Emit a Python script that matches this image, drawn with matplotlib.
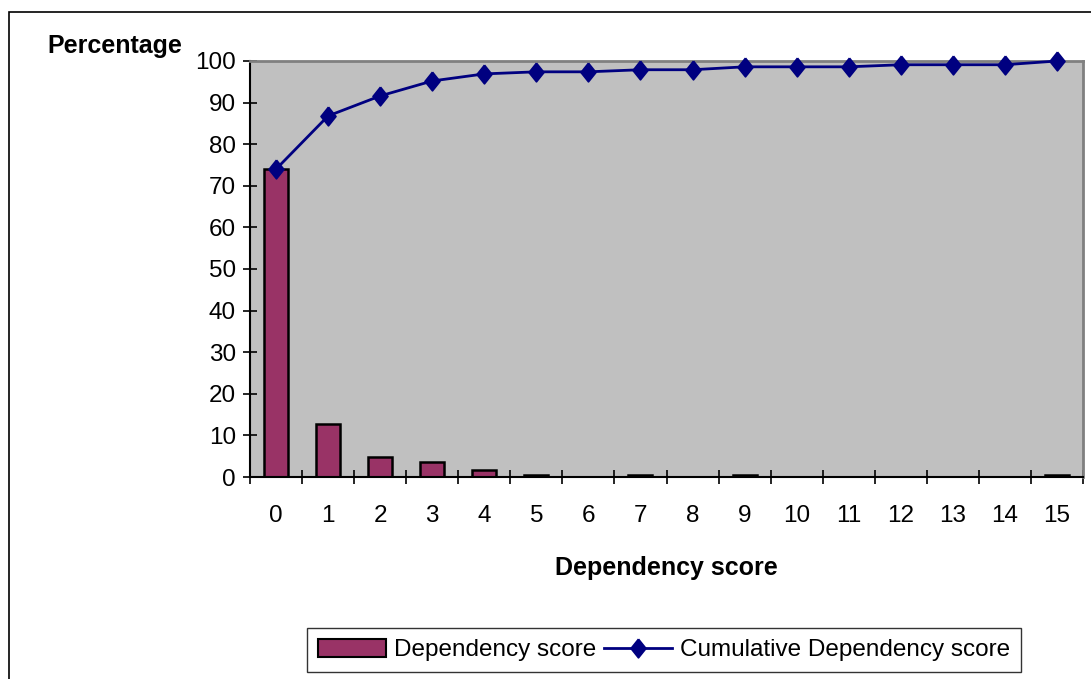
import matplotlib
matplotlib.use("Agg")
import matplotlib.pyplot as plt
from matplotlib.patches import Rectangle
from matplotlib.lines import Line2D
import numpy as np

plt.rcParams['font.family'] = ['Liberation Sans', 'DejaVu Sans']

scores = list(range(16))
dependency = [74.0, 12.8, 4.7, 3.5, 1.7, 0.5, 0.0, 0.5, 0.0, 0.6, 0.0, 0.0, 0.0, 0.0, 0.0, 0.5]
cumulative = [74.0, 86.8, 91.6, 95.2, 96.9, 97.4, 97.4, 97.9, 97.9, 98.6, 98.6, 98.6, 99.1, 99.1, 99.1, 100.0]
yticks = [0, 10, 20, 30, 40, 50, 60, 70, 80, 90, 100]

diamond = [(0, 1), (0.8, 0), (0, -1), (-0.8, 0), (0, 1)]

W, H = 1091, 679
fig = plt.figure(figsize=(W / 100, H / 100), dpi=100)
fig.patch.set_facecolor('white')

# outer chart border
fig.patches.append(Rectangle((9 / W, -0.01), 1.05, 1 - 12 / H + 0.01, transform=fig.transFigure,
                             fill=False, edgecolor='black', linewidth=1.2))

ax = fig.add_axes([250 / W, 1 - 477 / H, (1083 - 250) / W, (477 - 61) / H])
ax.set_facecolor('#C0C0C0')

ax.bar(scores, dependency, width=0.46, color='#993366', edgecolor='black', linewidth=1.8, zorder=2)
ax.plot(scores, cumulative, color='#000080', linewidth=2, marker=diamond, markersize=13.5,
        markerfacecolor='#000080', markeredgecolor='#000080', markeredgewidth=1.2,
        zorder=3, clip_on=False)

ax.set_xlim(-0.5, 15.5)
ax.set_ylim(0, 100)
ax.set_yticks(yticks)
ax.set_yticklabels([str(v) for v in yticks], fontsize=17.5)
ax.set_xticks(scores)
ax.set_xticklabels([str(s) for s in scores], fontsize=17.5)
ax.set_xticks(np.arange(-0.5, 16, 1), minor=True)
ax.tick_params(axis='x', which='major', length=0, pad=20)
ax.tick_params(axis='x', which='minor', length=10, width=1.2, direction='inout', color='black')
ax.tick_params(axis='y', which='major', length=10, width=1.2, direction='inout', pad=5)

for s in ['left', 'bottom']:
    ax.spines[s].set_color('black')
    ax.spines[s].set_linewidth(1.5)
for s in ['top', 'right']:
    ax.spines[s].set_color('#808080')
    ax.spines[s].set_linewidth(2)

fig.text(115 / W, 1 - 46 / H, 'Percentage', fontsize=18, fontweight='bold', ha='center', va='center')
fig.text(666 / W, 1 - 568 / H, 'Dependency score', fontsize=18, fontweight='bold', ha='center', va='center')

handles = [Rectangle((0, 0), 1, 1, facecolor='#993366', edgecolor='black', linewidth=1.5),
           Line2D([0], [0], color='#000080', linewidth=2, marker=diamond, markersize=13.5,
                  markerfacecolor='#000080', markeredgewidth=1.2)]
leg = fig.legend(handles, ['Dependency score', 'Cumulative Dependency score'],
                 loc='center', bbox_to_anchor=(664 / W, 1 - 650 / H), ncol=2, fontsize=17.5,
                 frameon=True, fancybox=False, edgecolor='black', handlelength=2.8,
                 handleheight=0.8, handletextpad=0.3, columnspacing=0.35, borderpad=0.45)
leg.get_frame().set_linewidth(1.0)

fig.savefig('out.png', dpi=100, facecolor='white')
